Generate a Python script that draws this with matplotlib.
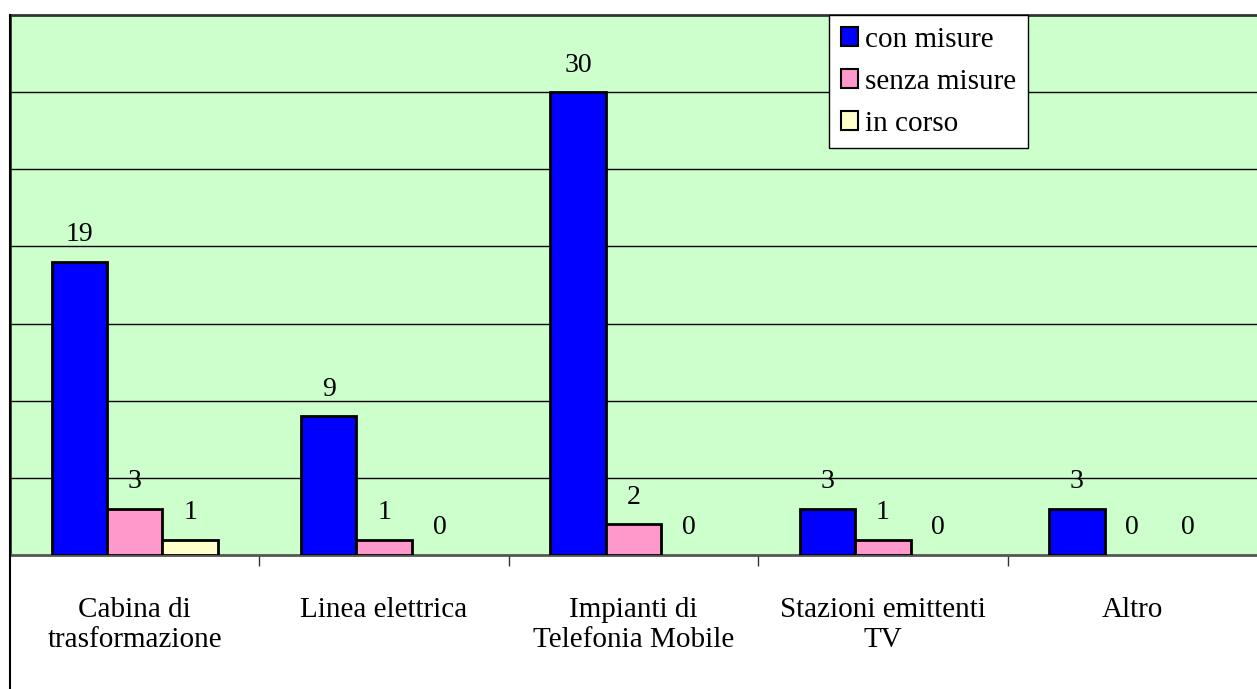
import matplotlib.pyplot as plt
import matplotlib.patches as patches
from matplotlib.lines import Line2D
import numpy as np

plt.rcParams['font.family'] = ['Liberation Serif', 'DejaVu Serif']

categories = ['Cabina di\ntrasformazione', 'Linea elettrica',
              'Impianti di\nTelefonia Mobile', 'Stazioni emittenti\nTV', 'Altro']
series_names = ['con misure', 'senza misure', 'in corso']
con_misure = [19, 9, 30, 3, 3]
senza_misure = [3, 1, 2, 1, 0]
in_corso = [1, 0, 0, 0, 0]
colors = ['#0000FF', '#FF99CC', '#FFFFCC']

W, H = 1257, 689
fig = plt.figure(figsize=(W / 100, H / 100), dpi=100)
ax = fig.add_axes([10 / W, 1 - 555 / H, 1 - 10 / W, (555 - 15) / H])
ax.set_facecolor('#CCFFCC')

x = np.arange(len(categories))
bw = 0.222
for k, (vals, name) in enumerate(zip([con_misure, senza_misure, in_corso], series_names)):
    pos = x + (k - 1) * bw
    bars = ax.bar(pos, vals, bw, color=colors[k], edgecolor='black', linewidth=2,
                  label=name, zorder=3)
    for b, v in zip(bars, vals):
        if v == 0:
            b.set_visible(False)
    for p, v in zip(pos, vals):
        ax.annotate(str(v), (p, v), xytext=(0, 27), textcoords='offset pixels',
                    ha='center', va='center', fontsize=20, zorder=4)

ax.set_xlim(-0.5, len(categories) - 0.5)
ax.set_ylim(0, 35)
ax.set_yticks([])
for yv in range(5, 35, 5):
    ax.axhline(yv, color='black', linewidth=1, zorder=1)

ax.set_xticks(x)
ax.set_xticklabels(categories, fontsize=21, linespacing=1.2)
ax.tick_params(axis='x', which='major', length=0, pad=30)
ax.set_xticks(x[:-1] + 0.5, minor=True)
ax.tick_params(axis='x', which='minor', length=8, width=1, color='#333333')

ax.spines['right'].set_visible(False)
ax.spines['top'].set_color('#333333')
ax.spines['top'].set_linewidth(2)
ax.spines['left'].set_color('#333333')
ax.spines['left'].set_linewidth(2)
ax.spines['bottom'].set_color('#555555')
ax.spines['bottom'].set_linewidth(2)

# outer border continuing down the left side
fig.add_artist(Line2D([10 / W, 10 / W], [0, 1 - 15 / H], color='black', linewidth=1.5))

leg = ax.legend(loc='upper left', bbox_to_anchor=(829 / W, 1 - 15 / H),
                bbox_transform=fig.transFigure, borderaxespad=0, fontsize=21,
                fancybox=False, framealpha=1, edgecolor='black',
                handlelength=0.6, handleheight=0.6, handletextpad=0.25,
                labelspacing=0.55, borderpad=0.4)
leg.get_frame().set_linewidth(1)
for h in leg.legend_handles:
    h.set_linewidth(1.5)
    h.set_visible(True)

plt.savefig('out.png', dpi=100)
